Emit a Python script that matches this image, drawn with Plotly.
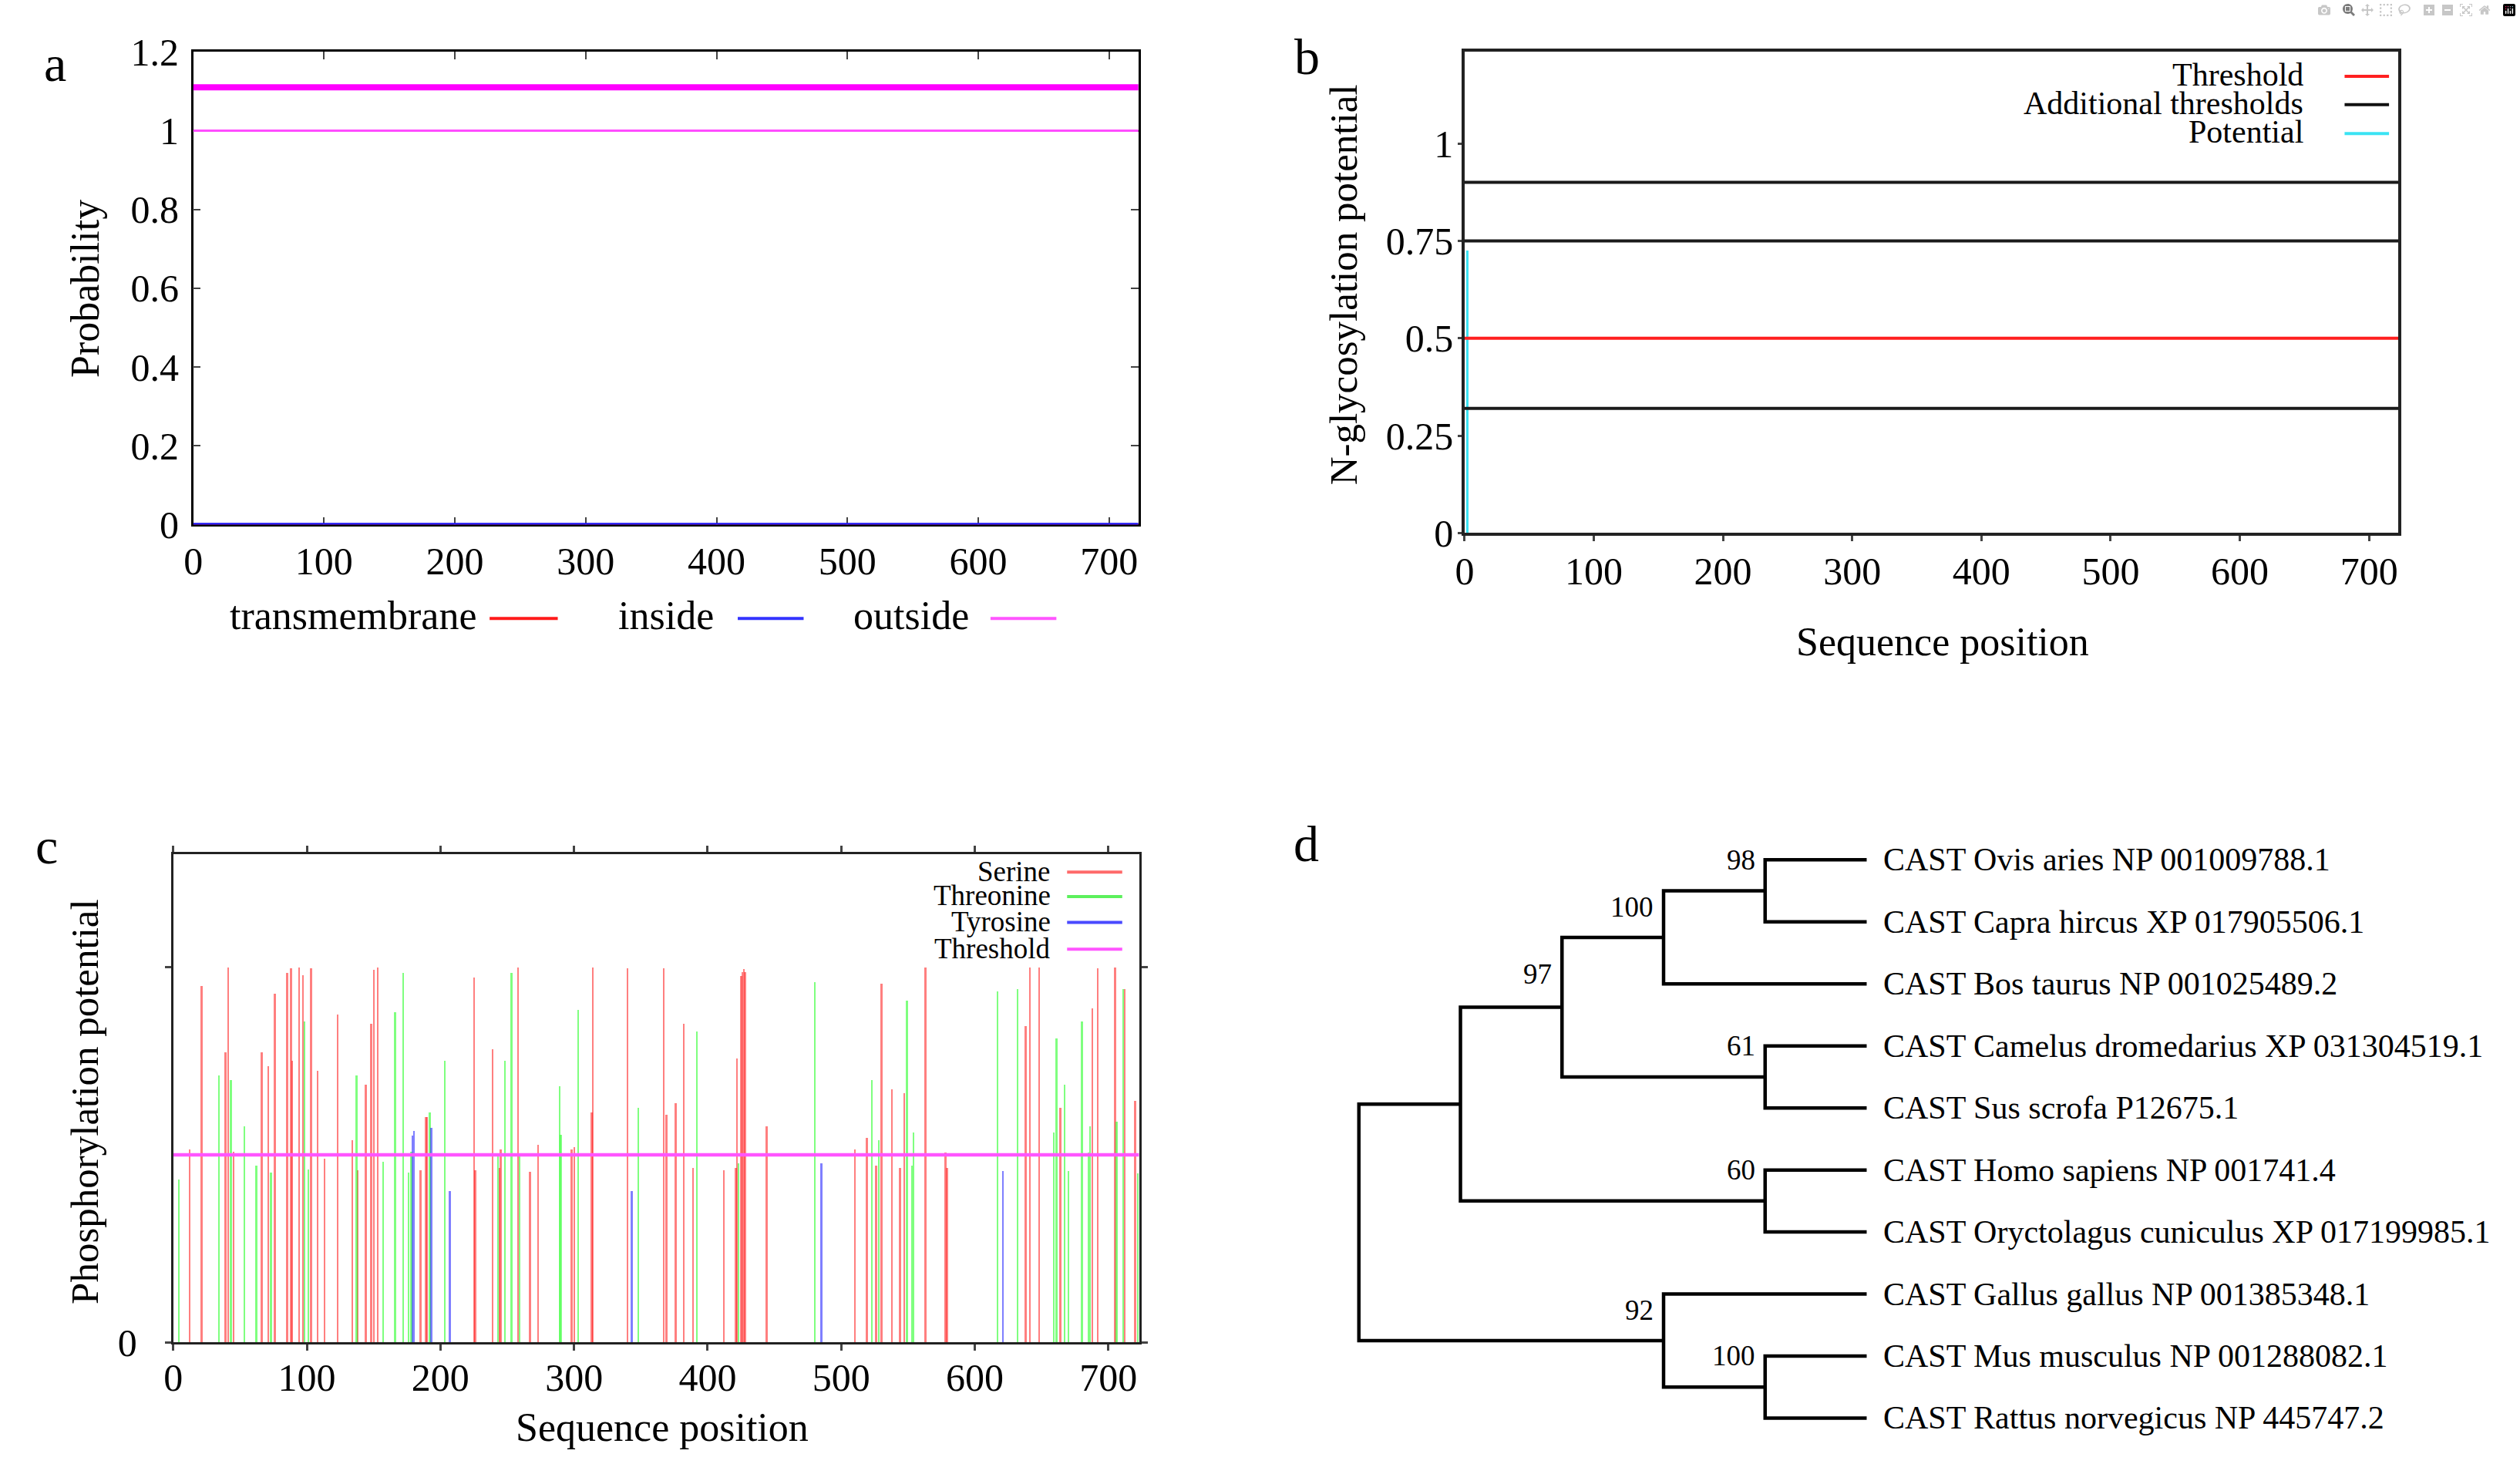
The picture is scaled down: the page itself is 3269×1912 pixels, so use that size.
import plotly.graph_objects as go

W, H = 3269, 1912
FONT = "Liberation Serif"

# ---------------- Panel a (TMHMM) data ----------------
a_pos = [0, 723]
transmembrane_prob = [0.0, 0.0]
inside_prob = [0.0, 0.0]
outside_prob = [1.0, 1.0]
outside_topology = [1.11, 1.11]
a_xticks = [0, 100, 200, 300, 400, 500, 600, 700]
a_yticks = [0, 0.2, 0.4, 0.6, 0.8, 1.0, 1.2]
a_yticklabels = ["0", "0.2", "0.4", "0.6", "0.8", "1", "1.2"]

# ---------------- Panel b (NetNGlyc) data ----------------
b_pos = [0, 723]
nglyc_site_pos = [2]
nglyc_potential = [0.725]
nglyc_threshold = 0.5
nglyc_additional = [0.32, 0.75, 0.90]
b_xticks = [0, 100, 200, 300, 400, 500, 600, 700]
b_yticks = [0, 0.25, 0.5, 0.75, 1.0]
b_yticklabels = ["0", "0.25", "0.5", "0.75", "1"]

# ---------------- Panel c (NetPhos) data ----------------
serine_pos = [12, 21, 39, 41, 45, 66, 71, 76, 85, 88, 89, 94, 97, 103, 108, 113,
              123, 134, 138, 144, 148, 150, 153, 185, 189, 190, 225, 226, 239, 244,
              245, 258, 267, 273, 298, 300, 313, 314, 340, 367, 369, 376, 382, 389,
              412, 421, 422, 425, 426, 427, 428, 444, 510, 519, 526, 530, 538, 544,
              547, 563, 578, 579, 638, 641, 648, 664, 688, 692, 705, 712, 720]
serine_val = [0.514, 0.948, 0.773, 0.998, 0.507, 0.773, 0.736, 0.929, 0.984, 0.996, 0.749,
              0.998, 0.978, 0.996, 0.723, 0.488, 0.872, 0.538, 0.458, 0.686, 0.848, 0.991,
              0.998, 0.458, 0.600, 0.600, 0.972, 0.458, 0.780, 0.465, 0.514, 0.998, 0.453,
              0.525, 0.513, 0.519, 0.612, 0.998, 0.996, 0.996, 0.605, 0.637, 0.848, 0.464,
              0.458, 0.464, 0.755, 0.975, 0.985, 0.995, 0.985, 0.575, 0.514, 0.544, 0.471,
              0.954, 0.674, 0.464, 0.663, 0.998, 0.506, 0.464, 0.841, 0.998, 0.998, 0.624,
              0.890, 0.996, 0.998, 0.940, 0.643]
threonine_pos = [4, 34, 43, 53, 62, 73, 98, 101, 137, 157, 166, 172, 176, 178, 192, 203,
                 243, 248, 253, 259, 289, 290, 303, 348, 392, 423, 480, 523, 528, 549,
                 553, 554, 617, 632, 659, 661, 667, 670, 680, 685, 686, 706, 711, 722]
threonine_val = [0.433, 0.711, 0.699, 0.575, 0.470, 0.452, 0.855, 0.459, 0.711, 0.481,
                 0.879, 0.984, 0.452, 0.508, 0.612, 0.749, 0.495, 0.749, 0.984, 0.495,
                 0.681, 0.552, 0.885, 0.624, 0.828, 0.476, 0.959, 0.699, 0.538, 0.909,
                 0.471, 0.558, 0.934, 0.941, 0.558, 0.810, 0.686, 0.456, 0.854, 0.506,
                 0.575, 0.587, 0.940, 0.449]
tyrosine_pos = [179, 180, 193, 207, 343, 485, 621]
tyrosine_val = [0.551, 0.563, 0.570, 0.403, 0.402, 0.476, 0.456]
phos_threshold = 0.5
c_pos = [0, 723]
c_xticks = [0, 100, 200, 300, 400, 500, 600, 700]

# ---------------- Panel d (phylogenetic tree) data ----------------
leaf_labels = [
    "CAST Ovis aries NP 001009788.1",
    "CAST Capra hircus XP 017905506.1",
    "CAST Bos taurus NP 001025489.2",
    "CAST Camelus dromedarius XP 031304519.1",
    "CAST Sus scrofa P12675.1",
    "CAST Homo sapiens NP 001741.4",
    "CAST Oryctolagus cuniculus XP 017199985.1",
    "CAST Gallus gallus NP 001385348.1",
    "CAST Mus musculus NP 001288082.1",
    "CAST Rattus norvegicus NP 445747.2",
]
# internal node: (child 1, child 2, bootstrap)
tree_nodes = {
    "n98": ("L0", "L1", 98),
    "n100a": ("n98", "L2", 100),
    "n61": ("L3", "L4", 61),
    "n97": ("n100a", "n61", 97),
    "n60": ("L5", "L6", 60),
    "nA": ("n97", "n60", None),
    "n100b": ("L8", "L9", 100),
    "n92": ("L7", "n100b", 92),
    "root": ("nA", "n92", None),
}


# pixel placement helpers (target pixel -> page coordinates)
def TX(t):
    return 0.9975 * t - 9.8


def TY(t):
    return 1.021 * t - 24.8


def PX(t):
    return TX(t) / W


def PY(t):
    return 1 - TY(t) / H


fig = go.Figure()

# ---------- panel a traces ----------
fig.add_trace(go.Scatter(x=a_pos, y=transmembrane_prob, mode="lines",
                         line=dict(color="#ff1a1a", width=3.5), xaxis="x", yaxis="y"))
fig.add_trace(go.Scatter(x=a_pos, y=inside_prob, mode="lines",
                         line=dict(color="#1a1aff", width=4.5), xaxis="x", yaxis="y"))
fig.add_trace(go.Scatter(x=a_pos, y=outside_prob, mode="lines",
                         line=dict(color="#ff4dff", width=3), xaxis="x", yaxis="y"))
fig.add_trace(go.Scatter(x=a_pos, y=outside_topology, mode="lines",
                         line=dict(color="#ff00ff", width=8), xaxis="x", yaxis="y"))

# ---------- panel b traces ----------
for thr in nglyc_additional:
    fig.add_trace(go.Scatter(x=b_pos, y=[thr, thr], mode="lines",
                             line=dict(color="#1a1a1a", width=4), xaxis="x2", yaxis="y2"))
fig.add_trace(go.Scatter(x=b_pos, y=[nglyc_threshold, nglyc_threshold], mode="lines",
                         line=dict(color="#ff2020", width=4), xaxis="x2", yaxis="y2"))
fig.add_trace(go.Bar(x=nglyc_site_pos, y=nglyc_potential, width=2.2,
                     marker=dict(color="#3be3f3", line=dict(width=0)),
                     xaxis="x2", yaxis="y2"))

# ---------- panel c traces ----------
fig.add_trace(go.Bar(x=serine_pos, y=serine_val, width=1.4,
                     marker=dict(color="rgba(255,0,0,0.5)", line=dict(width=0)),
                     xaxis="x3", yaxis="y3"))
fig.add_trace(go.Bar(x=threonine_pos, y=threonine_val, width=1.4,
                     marker=dict(color="rgba(0,255,0,0.5)", line=dict(width=0)),
                     xaxis="x3", yaxis="y3"))
fig.add_trace(go.Bar(x=tyrosine_pos, y=tyrosine_val, width=1.4,
                     marker=dict(color="rgba(0,0,255,0.5)", line=dict(width=0)),
                     xaxis="x3", yaxis="y3"))
fig.add_trace(go.Scatter(x=c_pos, y=[phos_threshold, phos_threshold], mode="lines",
                         line=dict(color="#ff55ff", width=4.5), xaxis="x3", yaxis="y3"))

# ---------- panel d: tree layout ----------
n_levels = 5
node_y = {f"L{i}": float(i) for i in range(len(leaf_labels))}
node_h = {f"L{i}": 0 for i in range(len(leaf_labels))}


def resolve(name):
    if name in node_y:
        return
    c1, c2, _ = tree_nodes[name]
    resolve(c1)
    resolve(c2)
    node_y[name] = (node_y[c1] + node_y[c2]) / 2
    node_h[name] = max(node_h[c1], node_h[c2]) + 1


resolve("root")
node_x = {k: n_levels - h for k, h in node_h.items()}

tx, ty = [], []
for name, (c1, c2, _) in tree_nodes.items():
    tx += [node_x[c1], node_x[name], node_x[name], node_x[c2], None]
    ty += [node_y[c1], node_y[c1], node_y[c2], node_y[c2], None]
fig.add_trace(go.Scatter(x=tx, y=ty, mode="lines",
                         line=dict(color="black", width=4.5),
                         xaxis="x4", yaxis="y4"))

annotations = []
for i, lab in enumerate(leaf_labels):
    annotations.append(dict(text=lab, x=n_levels, y=i, xref="x4", yref="y4",
                            xanchor="left", yanchor="middle", xshift=19,
                            showarrow=False,
                            font=dict(family=FONT, size=42, color="black")))
label_nudge = {"n97": -48}
for name, (c1, c2, bs) in tree_nodes.items():
    if bs is None:
        continue
    both_leaves = c1.startswith("L") and c2.startswith("L")
    shift = 0 if both_leaves else -21
    shift = label_nudge.get(name, shift)
    annotations.append(dict(text=str(bs), x=node_x[name], y=node_y[c1],
                            xref="x4", yref="y4", xanchor="right", yanchor="middle",
                            xshift=-11, yshift=shift, showarrow=False,
                            font=dict(family=FONT, size=37, color="black")))


def ann(text, x, y, size, xanchor="center", yanchor="middle", angle=0):
    return dict(text=text, x=PX(x), y=PY(y), xref="paper", yref="paper",
                showarrow=False, xanchor=xanchor, yanchor=yanchor,
                textangle=angle, font=dict(family=FONT, size=size, color="black"))


# panel letters
annotations += [ann("a", 69, 79, 66), ann("b", 1703, 70, 66),
                ann("c", 58, 1104, 66), ann("d", 1702, 1101, 66)]
# axis titles
annotations += [
    ann("Probability", 108, 374, 52, angle=-90),
    ann("N-glycosylation potential", 1752, 369, 51, angle=-90),
    ann("Sequence position", 2533, 836, 52),
    ann("Phosphorylation potential", 108, 1439, 51, angle=-90),
    ann("Sequence position", 861, 1865, 52),
]

shapes = []


def hline(x0, x1, y, color, width):
    shapes.append(dict(type="line", xref="paper", yref="paper",
                       x0=PX(x0), x1=PX(x1), y0=PY(y), y1=PY(y),
                       line=dict(color=color, width=width)))


# legend a (text then sample line)
legend_a = [("transmembrane", "#ff1a1a", 622, 636, 725),
            ("inside", "#3333ff", 931, 960, 1046),
            ("outside", "#ff55ff", 1264, 1290, 1376)]
for txt, col, xr, l0, l1 in legend_a:
    annotations.append(ann(txt, xr, 802, 52, xanchor="right"))
    hline(l0, l1, 806, col, 4)

# legend b
legend_b = [("Threshold", "#ff2020", 94), ("Additional thresholds", "#111111", 131),
            ("Potential", "#3be3f3", 169)]
for txt, col, yy in legend_b:
    annotations.append(ann(txt, 3006, yy, 42, xanchor="right"))
    hline(3058, 3116, yy + 2, col, 4)

# legend c
legend_c = [("Serine", "#ff6a6a", 1137), ("Threonine", "#5cf05c", 1169),
            ("Tyrosine", "#4a4aff", 1203), ("Threshold", "#ff55ff", 1238)]
for txt, col, yy in legend_c:
    annotations.append(ann(txt, 1371, yy, 37, xanchor="right"))
    hline(1390, 1462, yy + 1, col, 4)

tickfont = dict(family=FONT, size=50, color="black")

tree_x0, tree_x1 = 1771, 2434
tree_y0, tree_y1 = 1122, 1853
tree_lvl_px = (tree_x1 - tree_x0) / n_levels
tree_leaf_px = (tree_y1 - tree_y0) / (len(leaf_labels) - 1)

layout = dict(
    width=W, height=H, margin=dict(l=0, r=0, t=0, b=0),
    paper_bgcolor="white", plot_bgcolor="white", showlegend=False,
    barmode="overlay", bargap=0,
    font=dict(family=FONT, color="black"),
    # panel a
    xaxis=dict(domain=[PX(249), PX(1483)], range=[0, 722.3], anchor="y",
               tickvals=a_xticks, ticks="inside", ticklen=10, tickwidth=2,
               mirror="ticks", showline=True, linecolor="black", linewidth=2.5,
               showgrid=False, zeroline=False, tickfont=tickfont,
               ticklabelstandoff=2, layer="below traces"),
    yaxis=dict(domain=[PY(683), PY(64)], range=[0, 1.2], anchor="x",
               tickvals=a_yticks, ticktext=a_yticklabels, ticks="inside",
               ticklen=10, tickwidth=2, mirror="ticks", showline=True,
               linecolor="black", linewidth=2.5, showgrid=False, zeroline=False,
               tickfont=tickfont, ticklabelstandoff=6, layer="below traces"),
    # panel b
    xaxis2=dict(domain=[PX(1909), PX(3128)], range=[0, 722.6], anchor="y2",
                tickvals=b_xticks, ticks="outside", ticklen=7, tickwidth=2.5,
                mirror=True, showline=True, linecolor="#222222", linewidth=3.5,
                showgrid=False, zeroline=False, tickfont=tickfont,
                ticklabelstandoff=-4, layer="below traces"),
    yaxis2=dict(domain=[PY(694), PY(64)], range=[0, 1.235], anchor="x2",
                tickvals=b_yticks, ticktext=b_yticklabels, ticks="outside",
                ticklen=5, tickwidth=2.5, mirror=True, showline=True,
                linecolor="#222222", linewidth=3.5, showgrid=False, zeroline=False,
                tickfont=tickfont, ticklabelstandoff=-4, layer="below traces"),
    # panel c
    xaxis3=dict(domain=[PX(223), PX(1484)], range=[0, 723], anchor="y3",
                tickvals=c_xticks, ticks="outside", ticklen=8, tickwidth=2.5,
                mirror="ticks", showline=True, linecolor="#222222", linewidth=3,
                showgrid=False, zeroline=False, tickfont=tickfont,
                ticklabelstandoff=-8, layer="below traces"),
    yaxis3=dict(domain=[PY(1754), PY(1115)], range=[0, 1.3], anchor="x3",
                tickvals=[0, 1], ticktext=["0", ""], ticks="outside", ticklen=8,
                tickwidth=2.5, mirror="ticks", showline=True, linecolor="#222222",
                linewidth=3, showgrid=False, zeroline=False, tickfont=tickfont,
                ticklabelstandoff=26, layer="below traces"),
    # panel d (tree)
    xaxis4=dict(domain=[PX(tree_x0 - 0.1 * tree_lvl_px), PX(tree_x1 + 0.1 * tree_lvl_px)],
                range=[-0.1, n_levels + 0.1], anchor="y4", visible=False),
    yaxis4=dict(domain=[PY(tree_y1 + 0.5 * tree_leaf_px), PY(tree_y0 - 0.5 * tree_leaf_px)],
                range=[len(leaf_labels) - 0.5, -0.5], anchor="x4", visible=False),
    annotations=annotations,
    shapes=shapes,
)
fig.update_layout(**layout)

fig.write_html("out.html",
               post_script="document.body.style.margin='0';document.body.style.overflow='hidden';")
